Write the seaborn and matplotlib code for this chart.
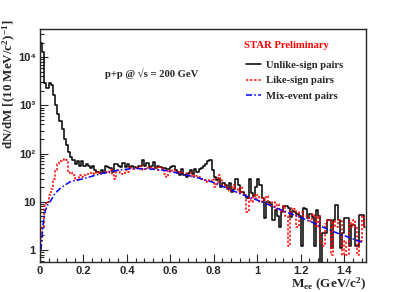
import matplotlib
matplotlib.use("Agg")
import matplotlib.pyplot as plt
import numpy as np
import seaborn as sns
from matplotlib.ticker import FuncFormatter, MultipleLocator, LogLocator, NullFormatter

# 10 MeV bins from 0 to 1.5 GeV/c^2
bin_width = 0.01
unlike_counts = [
    20000, 13000, 2900, 2300, 2900, 2600, 1600, 1000, 650, 470,
    320, 200, 150, 110, 85, 75, 60, 70, 55, 70,
    55, 60, 55, 50, 55, 45, 42, 40, 45, 40,
    55, 52, 50, 42, 60, 62, 55, 52, 65, 52,
    60, 52, 55, 52, 50, 55, 55, 72, 55, 65,
    52, 55, 67, 50, 55, 52, 50, 50, 48, 47,
    52, 55, 45, 42, 36, 48, 35, 33, 40, 45,
    38, 48, 42, 48, 50, 55, 60, 70, 75, 45,
    33, 28, 30, 20, 25, 22, 18, 24, 16, 18,
    30, 22, 16, 16, 14, 12, 30, 15, 13, 20,
    30, 22, 12, 4.6, 10, 10, 9, 4.2, 6.7, 5,
    3, 6, 8, 8, 7.5, 4.9, 6.5, 6, 5.5, 5,
    1.2, 7.4, 7, 4.5, 5.5, 4.9, 1.2, 6.7, 5, 0.5,
    2.2, 2.2, 4.2, 4.2, 1.1, 4.2, 8.5, 4.2, 1.1, 2.2,
    4.6, 4.6, 1.2, 3.3, 3.3, 1.2, 1.2, 5.3, 5.3, 3,
]
like_counts = [
    1.5, 3, 8, 10, 14, 18, 30, 45, 60, 70,
    75, 78, 75, 40, 42, 35, 30, 28, 35, 32,
    36, 38, 38, 40, 38, 42, 40, 42, 38, 40,
    42, 40, 45, 38, 30, 45, 42, 40, 38, 45,
    42, 52, 50, 48, 50, 48, 55, 45, 48, 50,
    50, 52, 48, 50, 45, 52, 48, 38, 33, 45,
    42, 45, 44, 40, 42, 40, 40, 38, 36, 40,
    32, 36, 34, 32, 30, 28, 26, 28, 27, 30,
    20, 24, 35, 30, 22, 20, 18, 17, 20, 22,
    18, 16, 20, 15, 13, 6, 12, 10, 14, 12,
    14, 10, 12, 11, 13, 9, 8, 10, 7, 9,
    7, 6, 8, 5, 1.2, 6, 7.4, 7, 3, 6,
    6, 5, 5, 4.5, 4, 5.5, 5, 3, 5, 1.5,
    1.2, 3.5, 4.2, 4.2, 0.8, 4, 3, 4.2, 4, 0.8,
    1.5, 0.8, 4, 3, 4.2, 3, 0.8, 1.5, 5, 3,
]
mix_mass = [0.005, 0.015, 0.025, 0.035, 0.05, 0.07, 0.1, 0.14, 0.2, 0.28,
            0.36, 0.43, 0.5, 0.57, 0.65, 0.73, 0.8, 0.88, 0.95, 1.02,
            1.1, 1.17, 1.25, 1.33, 1.41, 1.49]
mix_counts = [1.0, 3.5, 6.5, 8.5, 10.5, 15, 20, 26, 30, 38,
              45, 49, 48, 45, 38, 31, 25, 17.5, 13, 10,
              7, 5.3, 3.8, 2.6, 1.9, 1.4]

mass_bins = np.round(np.arange(len(unlike_counts)) * bin_width + bin_width / 2, 3)

sns.set_style("ticks")
plt.rcParams["font.family"] = ["Liberation Serif", "DejaVu Serif"]
plt.rcParams["font.weight"] = "bold"
plt.rcParams["mathtext.fontset"] = "custom"
plt.rcParams["mathtext.rm"] = "Liberation Serif:bold"
plt.rcParams["mathtext.it"] = "Liberation Serif:italic:bold"
plt.rcParams["mathtext.bf"] = "Liberation Serif:bold"

fig, ax = plt.subplots(figsize=(4.07, 2.92), dpi=100)
fig.subplots_adjust(left=0.098, right=0.899, bottom=0.104, top=0.90)

sns.lineplot(x=mass_bins, y=unlike_counts, ax=ax, color="black", lw=1.1,
             drawstyle="steps-mid", label="Unlike-sign pairs")
sns.lineplot(x=mass_bins, y=like_counts, ax=ax, color="red", lw=1.1,
             drawstyle="steps-mid", linestyle=(0, (1.5, 1.2)), label="Like-sign pairs")
sns.lineplot(x=mix_mass, y=mix_counts, ax=ax, color="blue", lw=1.1,
             linestyle=(0, (4, 1.5, 1, 1.5)), label="Mix-event pairs")

ax.set_yscale("log")
ax.set_xlim(0, 1.5)
ax.set_ylim(0.57, 38000)

ax.xaxis.set_major_locator(MultipleLocator(0.2))
ax.xaxis.set_minor_locator(MultipleLocator(0.04))
ax.xaxis.set_major_formatter(FuncFormatter(lambda v, p: f"{v:g}"))
ax.yaxis.set_major_locator(LogLocator(base=10))
ax.yaxis.set_minor_locator(LogLocator(base=10, subs=np.arange(2, 10)))
ax.yaxis.set_minor_formatter(NullFormatter())


def ylab(v, p):
    n = int(round(np.log10(v)))
    sup = {2: "²", 3: "³", 4: "⁴"}
    if n == 0:
        return "1"
    if n == 1:
        return "10"
    return "10" + sup.get(n, str(n))


ax.yaxis.set_major_formatter(FuncFormatter(ylab))
ax.tick_params(which="both", direction="in", top=False, right=False)
ax.tick_params(which="major", length=6, width=0.8, pad=3)
ax.tick_params(which="minor", length=3, width=0.8)
for lbl in ax.get_xticklabels() + ax.get_yticklabels():
    lbl.set_family(["Liberation Sans", "DejaVu Sans"])
    lbl.set_fontweight("bold")
    lbl.set_fontsize(8)
for s in ax.spines.values():
    s.set_linewidth(1.0)
    s.set_visible(True)

ax.set_ylabel("dN/dM [(10 MeV/c$^{2}$)$^{-1}$]", fontsize=9.4, fontweight="bold",
              loc="top", va="center")
ax.yaxis.set_label_coords(-0.092, 1.04)
ax.set_xlabel("M$_{\\mathrm{ee}}$ (GeV/c$^{2}$)", fontsize=9.5, fontweight="bold",
              loc="right", labelpad=0)

ax.text(0.626, 0.931, "STAR Preliminary", transform=ax.transAxes, color="red",
        fontsize=7.7, fontweight="bold", va="center", ha="left")
ax.text(0.2, 0.811, "p+p @ √s = 200 GeV", transform=ax.transAxes,
        fontsize=7.7, fontweight="bold", va="center", ha="left")

ax.legend(loc="upper left", bbox_to_anchor=(0.632, 0.865), frameon=False,
          prop=dict(family="Liberation Serif", weight="bold", size=7.7),
          handlelength=1.4, handletextpad=0.5, labelspacing=0.55,
          borderpad=0, borderaxespad=0)

fig.savefig("out.png", dpi=100)
